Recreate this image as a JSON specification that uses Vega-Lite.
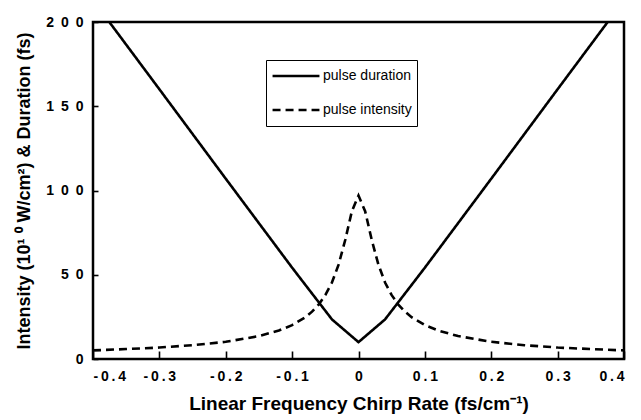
{
  "$schema": "https://vega.github.io/schema/vega-lite/v6.json",
  "width": 531,
  "height": 337,
  "autosize": {"type": "none"},
  "padding": {"left": 93, "top": 22, "right": 17, "bottom": 61},
  "background": "white",
  "config": {
    "font": "Liberation Sans",
    "view": {"stroke": "black", "strokeWidth": 2.5},
    "axis": {
      "domain": false,
      "grid": false,
      "ticks": true,
      "tickColor": "black",
      "tickWidth": 1.6,
      "labelColor": "black",
      "titleColor": "black",
      "labelFont": "Liberation Sans",
      "titleFont": "Liberation Sans",
      "labelFontWeight": "bold",
      "titleFontWeight": "bold",
      "labelFontSize": 14
    }
  },
  "data": {
    "values": [
      {"chirp": -0.4, "value": 213.0, "series": "pulse duration"},
      {"chirp": -0.3, "value": 160.1, "series": "pulse duration"},
      {"chirp": -0.2, "value": 107.0, "series": "pulse duration"},
      {"chirp": -0.1, "value": 54.2, "series": "pulse duration"},
      {"chirp": -0.04, "value": 23.5, "series": "pulse duration"},
      {"chirp": 0.0, "value": 10.0, "series": "pulse duration"},
      {"chirp": 0.04, "value": 23.5, "series": "pulse duration"},
      {"chirp": 0.1, "value": 54.2, "series": "pulse duration"},
      {"chirp": 0.2, "value": 107.0, "series": "pulse duration"},
      {"chirp": 0.3, "value": 160.1, "series": "pulse duration"},
      {"chirp": 0.4, "value": 213.0, "series": "pulse duration"},
      {"chirp": -0.4, "value": 5.1, "series": "pulse intensity"},
      {"chirp": -0.35, "value": 5.9, "series": "pulse intensity"},
      {"chirp": -0.3, "value": 6.8, "series": "pulse intensity"},
      {"chirp": -0.25, "value": 8.2, "series": "pulse intensity"},
      {"chirp": -0.2, "value": 10.2, "series": "pulse intensity"},
      {"chirp": -0.15, "value": 13.6, "series": "pulse intensity"},
      {"chirp": -0.12, "value": 16.9, "series": "pulse intensity"},
      {"chirp": -0.1, "value": 20.1, "series": "pulse intensity"},
      {"chirp": -0.08, "value": 24.8, "series": "pulse intensity"},
      {"chirp": -0.07, "value": 28.1, "series": "pulse intensity"},
      {"chirp": -0.06, "value": 32.3, "series": "pulse intensity"},
      {"chirp": -0.05, "value": 37.9, "series": "pulse intensity"},
      {"chirp": -0.04, "value": 45.4, "series": "pulse intensity"},
      {"chirp": -0.03, "value": 56.0, "series": "pulse intensity"},
      {"chirp": -0.02, "value": 70.6, "series": "pulse intensity"},
      {"chirp": -0.01, "value": 87.7, "series": "pulse intensity"},
      {"chirp": 0.0, "value": 97.0, "series": "pulse intensity"},
      {"chirp": 0.01, "value": 87.7, "series": "pulse intensity"},
      {"chirp": 0.02, "value": 70.6, "series": "pulse intensity"},
      {"chirp": 0.03, "value": 56.0, "series": "pulse intensity"},
      {"chirp": 0.04, "value": 45.4, "series": "pulse intensity"},
      {"chirp": 0.05, "value": 37.9, "series": "pulse intensity"},
      {"chirp": 0.06, "value": 32.3, "series": "pulse intensity"},
      {"chirp": 0.07, "value": 28.1, "series": "pulse intensity"},
      {"chirp": 0.08, "value": 24.8, "series": "pulse intensity"},
      {"chirp": 0.1, "value": 20.1, "series": "pulse intensity"},
      {"chirp": 0.12, "value": 16.9, "series": "pulse intensity"},
      {"chirp": 0.15, "value": 13.6, "series": "pulse intensity"},
      {"chirp": 0.2, "value": 10.2, "series": "pulse intensity"},
      {"chirp": 0.25, "value": 8.2, "series": "pulse intensity"},
      {"chirp": 0.3, "value": 6.8, "series": "pulse intensity"},
      {"chirp": 0.35, "value": 5.9, "series": "pulse intensity"},
      {"chirp": 0.4, "value": 5.1, "series": "pulse intensity"}
    ]
  },
  "mark": {"type": "line", "color": "black", "strokeWidth": 2.6, "clip": true},
  "encoding": {
    "x": {
      "field": "chirp",
      "type": "quantitative",
      "scale": {"domain": [-0.4, 0.4], "nice": false, "zero": false},
      "axis": {
        "values": [-0.4, -0.3, -0.2, -0.1, 0, 0.1, 0.2, 0.3, 0.4],
        "offset": -8,
        "tickSize": 8,
        "labelPadding": 10,
        "labelExpr": "join(split((datum.value < 0 ? '-' : '') + (datum.value == 0 ? '0' : format(abs(datum.value), '.1f')), ''), '\u2009')",
        "title": "Linear Frequency Chirp Rate (fs/cm\u207b\u00b9)",
        "titleFontSize": 19,
        "titlePadding": 11
      }
    },
    "y": {
      "field": "value",
      "type": "quantitative",
      "scale": {"domain": [0, 200], "nice": false},
      "axis": {
        "values": [0, 50, 100, 150, 200],
        "offset": -5,
        "tickSize": 5,
        "labelPadding": 10,
        "labelExpr": "join(split(format(datum.value, 'd'), ''), '\u2002')",
        "title": "Intensity  (10\u00b9 \u2070  W/cm\u00b2)  &  Duration  (fs)",
        "titleFontSize": 18,
        "titlePadding": 12
      }
    },
    "strokeDash": {
      "field": "series",
      "type": "nominal",
      "scale": {
        "domain": ["pulse duration", "pulse intensity"],
        "range": [[1, 0], [8, 5]]
      },
      "legend": {
        "title": null,
        "orient": "none",
        "legendX": 173,
        "legendY": 38,
        "direction": "vertical",
        "symbolType": "stroke",
        "symbolSize": 2200,
        "symbolStrokeWidth": 2.6,
        "symbolStrokeColor": "black",
        "clipHeight": 22,
        "labelFont": "Liberation Sans",
        "labelFontSize": 14,
        "labelColor": "black",
        "labelOffset": 2,
        "rowPadding": 12,
        "padding": 5,
        "strokeColor": "black",
        "fillColor": "white"
      }
    }
  }
}
